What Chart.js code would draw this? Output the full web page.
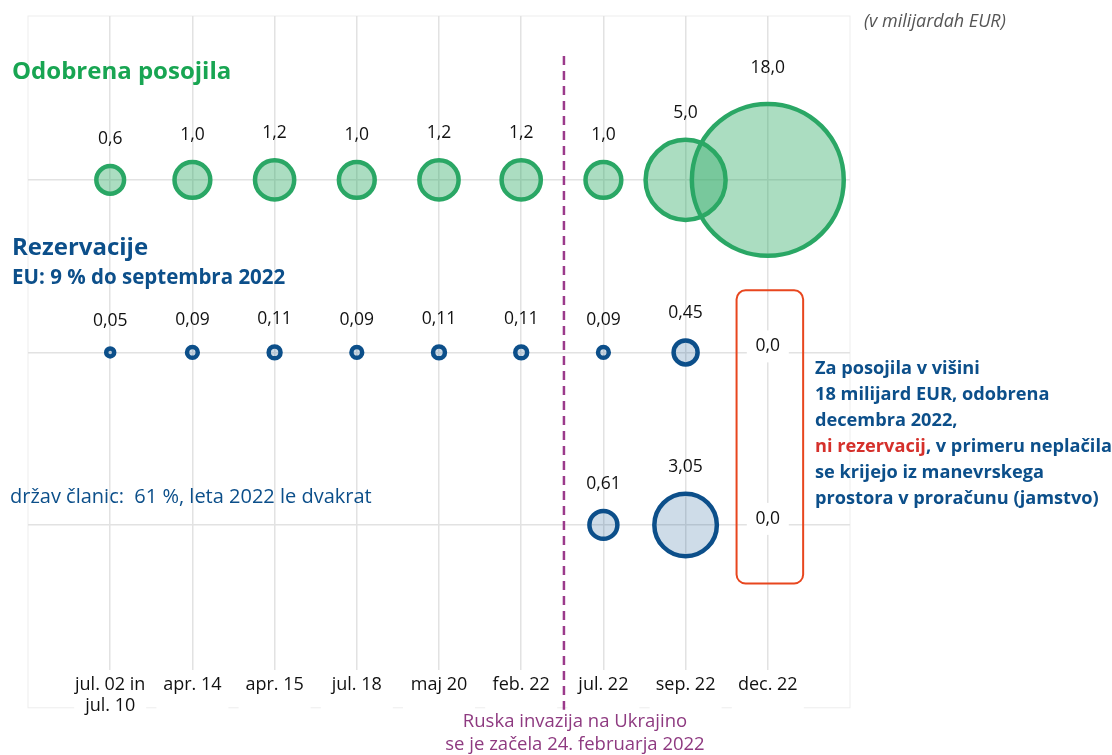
<!DOCTYPE html>
<html>
<head>
<meta charset="utf-8">
<script src="https://cdn.jsdelivr.net/npm/chart.js@4/dist/chart.umd.min.js"></script>
<style>
  html, body { margin: 0; padding: 0; background: #fff; }
  #wrap { width: 1112px; height: 755px; position: relative; }
</style>
</head>
<body>
<div id="wrap"><canvas id="bubbleChart"></canvas></div>
<script>
const categories = [["jul. 02 in", "jul. 10"], "apr. 14", "apr. 15", "jul. 18", "maj 20", "feb. 22", "jul. 22", "sep. 22", "dec. 22"];
const approvedLoans = [0.6, 1.0, 1.2, 1.0, 1.2, 1.2, 1.0, 5.0, 18.0];
const euProvisions = [0.05, 0.09, 0.11, 0.09, 0.11, 0.11, 0.09, 0.45, 0.0];
const memberProvisions = [null, null, null, null, null, null, 0.61, 3.05, 0.0];

const FONT = "'Open Sans', 'Noto Sans', sans-serif";
const GREEN = "#2aa765";
const BLUE = "#0c4f8a";
const RADIUS_K = 17.9; // bubble area ~ value

// one row per series
const toPoints = (values, row, digits) =>
  values
    .map((v, i) => (v === null ? null : { x: i, y: row, r: RADIUS_K * Math.sqrt(v), v: v, d: digits }))
    .filter((p) => p);

const fmt = (v, digits) => (v === 0 ? "0,0" : v.toFixed(digits).replace(".", ","));

const decor = {
  id: "decor",
  beforeDraw(chart) {
    const { ctx, chartArea: a, scales } = chart;
    ctx.save();
    // faint frame, label area kept white
    ctx.strokeStyle = "#ededed";
    ctx.lineWidth = 1;
    ctx.strokeRect(a.left, a.top, a.right - a.left, a.bottom - a.top + 38);
    ctx.fillStyle = "#fff";
    categories.forEach((c, i) => {
      const x = scales.x.getPixelForValue(i);
      ctx.fillRect(x - 36, a.bottom + 2, 72, 44);
    });
    ctx.restore();
  },
  beforeDatasetsDraw(chart) {
    const { ctx, chartArea: a, scales } = chart;
    ctx.save();
    // invasion line
    const xi = scales.x.getPixelForValue(5.52);
    ctx.strokeStyle = "#9b3a8b";
    ctx.lineWidth = 2.5;
    ctx.setLineDash([9, 6]);
    ctx.beginPath();
    ctx.moveTo(xi, a.top + 40);
    ctx.lineTo(xi, a.bottom + 40);
    ctx.stroke();
    ctx.restore();
  },
  afterDatasetsDraw(chart) {
    const { ctx, scales } = chart;
    ctx.save();
    ctx.textAlign = "center";
    ctx.textBaseline = "middle";
    ctx.font = "17.5px " + FONT;

    chart.data.datasets.forEach((ds, di) => {
      const meta = chart.getDatasetMeta(di);
      meta.data.forEach((el, i) => {
        const p = ds.data[i];
        const txt = fmt(p.v, p.d);
        if (p.v === 0) {
          ctx.fillStyle = "#fff";
          ctx.fillRect(el.x - 21, el.y - 22, 42, 32);
          ctx.fillStyle = "#111";
          ctx.fillText(txt, el.x, el.y - 6);
        } else {
          const top = el.y - el.options.radius - 2;
          ctx.fillStyle = "#111";
          ctx.fillText(txt, el.x, top - 25 - (p.v > 10 ? 9 : 0));
        }
      });
    });

    // red box around dec. 22 provisions
    const bx0 = scales.x.getPixelForValue(7.62);
    const bx1 = scales.x.getPixelForValue(8.43);
    const by0 = scales.y.getPixelForValue(2.36);
    const by1 = scales.y.getPixelForValue(0.66);
    ctx.strokeStyle = "#e8461e";
    ctx.lineWidth = 2;
    ctx.beginPath();
    ctx.roundRect(bx0, by0, bx1 - bx0, by1 - by0, 9);
    ctx.stroke();
    ctx.restore();
  },
  afterDraw(chart) {
    const { ctx } = chart;
    ctx.save();
    ctx.textBaseline = "middle";
    ctx.textAlign = "left";

    ctx.fillStyle = "#555";
    ctx.font = "italic 18px " + FONT;
    ctx.fillText("(v milijardah EUR)", 864, 22);

    ctx.fillStyle = "#18a552";
    ctx.font = "bold 24px " + FONT;
    ctx.fillText("Odobrena posojila", 12, 72);

    ctx.fillStyle = BLUE;
    ctx.fillText("Rezervacije", 12, 248);
    ctx.font = "bold 20.5px " + FONT;
    ctx.fillText("EU: 9 % do septembra 2022", 12, 278);

    ctx.font = "20px " + FONT;
    ctx.fillText("držav članic:  61 %, leta 2022 le dvakrat", 10, 497);

    // note on the right
    ctx.font = "bold 18.2px " + FONT;
    const lines = [
      "Za posojila v višini",
      "18 milijard EUR, odobrena",
      "decembra 2022,",
      null,
      "se krijejo iz manevrskega",
      "prostora v proračunu (jamstvo)",
    ];
    lines.forEach((l, i) => {
      const y = 369 + i * 26;
      if (l === null) {
        ctx.fillStyle = "#d5302b";
        const red = "ni rezervacij";
        ctx.fillText(red, 815, y);
        const w = ctx.measureText(red).width;
        ctx.fillStyle = BLUE;
        ctx.fillText(", v primeru neplačila", 815 + w, y);
      } else {
        ctx.fillStyle = BLUE;
        ctx.fillText(l, 815, y);
      }
    });

    // invasion note
    ctx.textAlign = "center";
    ctx.fillStyle = "#8e3a80";
    ctx.font = "18.5px " + FONT;
    ctx.fillText("Ruska invazija na Ukrajino", 575, 722);
    ctx.fillText("se je začela 24. februarja 2022", 575, 745);
    ctx.restore();
  },
};

const greenFill = "rgba(46, 170, 100, 0.4)";
const blueFill = "rgba(12, 79, 138, 0.2)";

const config = {
  type: "bubble",
  data: {
    datasets: [
      {
        label: "Odobrena posojila",
        data: toPoints(approvedLoans, 3, 1),
        backgroundColor: greenFill,
        borderColor: GREEN,
        borderWidth: 4.5,
      },
      {
        label: "Rezervacije EU",
        data: toPoints(euProvisions, 2, 2),
        backgroundColor: blueFill,
        borderColor: BLUE,
        borderWidth: (c) => (c.raw && c.raw.v === 0 ? 0 : 4.5),
      },
      {
        label: "Rezervacije držav članic",
        data: toPoints(memberProvisions, 1, 2),
        backgroundColor: blueFill,
        borderColor: BLUE,
        borderWidth: (c) => (c.raw && c.raw.v === 0 ? 0 : 4.5),
      },
    ],
  },
  options: {
    responsive: true,
    maintainAspectRatio: false,
    animation: false,
    events: [],
    clip: false,
    layout: { autoPadding: false, padding: { left: 28, right: 262, top: 16, bottom: 34 } },
    plugins: { legend: { display: false }, tooltip: { enabled: false } },
    scales: {
      x: {
        type: "linear",
        min: -1,
        max: 9,
        afterBuildTicks: (axis) => {
          axis.ticks = [-1, 0, 1, 2, 3, 4, 5, 6, 7, 8, 9].map((v) => ({ value: v }));
        },
        ticks: {
          autoSkip: false,
          maxRotation: 0,
          padding: 4,
          color: "#111",
          font: { family: FONT, size: 18 },
          callback: (v) => (v >= 0 && v < categories.length ? categories[v] : ""),
        },
        grid: {
          color: (c) => (c.tick && (c.tick.value === -1 || c.tick.value === 9) ? "rgba(0,0,0,0)" : "#e2e2e2"),
          lineWidth: 1.5,
          drawTicks: false,
        },
        border: { display: false },
      },
      y: {
        type: "linear",
        min: 0.16,
        max: 3.95,
        afterBuildTicks: (axis) => {
          axis.ticks = [1, 2, 3].map((v) => ({ value: v }));
        },
        ticks: { display: false },
        grid: { color: "#e2e2e2", lineWidth: 1.5, drawTicks: false },
        border: { display: false },
      },
    },
  },
  plugins: [decor],
};

new Chart(document.getElementById("bubbleChart").getContext("2d"), config);
</script>
</body>
</html>
